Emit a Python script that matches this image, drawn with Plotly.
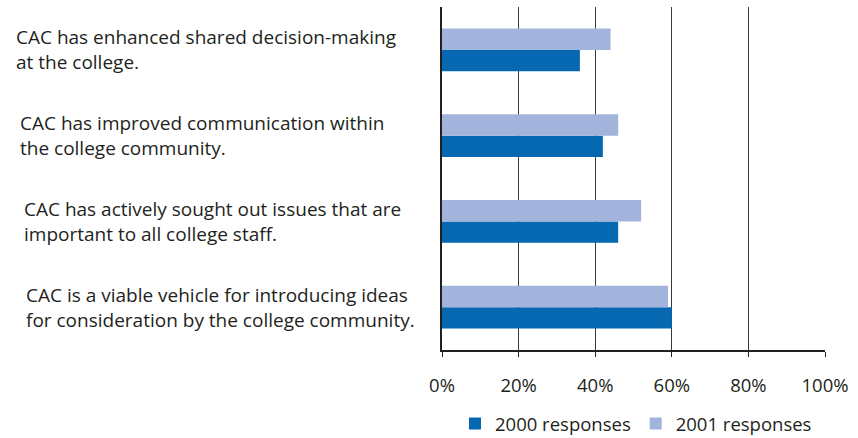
import plotly.graph_objects as go

categories = [
    "CAC has enhanced shared decision-making<br>at the college.",
    "CAC has improved communication within<br>the college community.",
    "CAC has actively sought out issues that are<br>important to all college staff.",
    "CAC is a viable vehicle for introducing ideas<br>for consideration by the college community.",
]
cat_ids = ["c1", "c2", "c3", "c4"]
resp_2000 = [36, 42, 46, 60]
resp_2001 = [44, 46, 52, 59]
series_names = ["2000 responses", "2001 responses"]
tick_vals = [0, 20, 40, 60, 80, 100]
tick_text = ["0%", "20%", "40%", "60%", "80%", "100%"]

W, H = 858, 438
L, R, T, B = 442, 33, 7, 88
pw, ph = W - L - R, H - T - B

FONT = "Open Sans"
FS = 19

fig = go.Figure()
fig.add_trace(go.Bar(y=cat_ids, x=resp_2000, orientation="h", name=series_names[0],
                     marker=dict(color="#0568B1", line=dict(width=0))))
fig.add_trace(go.Bar(y=cat_ids, x=resp_2001, orientation="h", name=series_names[1],
                     marker=dict(color="#A2B3DC", line=dict(width=0))))

# label positions (left edge px) per category
label_left_px = [14, 18, 22, 24]
for cid, txt, lx in zip(cat_ids, categories, label_left_px):
    fig.add_annotation(x=(lx - L) / pw, xref="paper", y=cid, yref="y",
                       text=txt, showarrow=False, xanchor="left", yanchor="middle",
                       align="left", font=dict(family=FONT, size=FS, color="#231F20"))

fig.update_layout(
    width=W, height=H, margin=dict(l=L, r=R, t=T, b=B, autoexpand=False),
    paper_bgcolor="white", plot_bgcolor="white",
    barmode="group", bargap=0.5, bargroupgap=0,
    font=dict(family=FONT, size=FS, color="#231F20"),
    legend=dict(orientation="h", x=(636 - L) / pw, xanchor="center",
                y=(H - B - 424) / ph, yanchor="middle",
                font=dict(family=FONT, size=18.5, color="#231F20"),
                itemwidth=30, tracegroupgap=0),
    showlegend=True,
)
fig.update_xaxes(range=[0, 100], tickvals=tick_vals, ticktext=tick_text,
                 tickfont=dict(size=18.5),
                 showgrid=True, gridcolor="#3a3a3a", gridwidth=1,
                 zeroline=False, showline=True, linecolor="#231F20", linewidth=1.5,
                 ticks="outside", ticklen=5, tickcolor="#231F20", tickwidth=1,
                 ticklabelstandoff=13, fixedrange=True)
fig.update_yaxes(categoryorder="array", categoryarray=cat_ids[::-1],
                 showticklabels=False, showgrid=False, zeroline=False,
                 showline=True, linecolor="#231F20", linewidth=2, ticks="")

fig.write_html("out.html")
